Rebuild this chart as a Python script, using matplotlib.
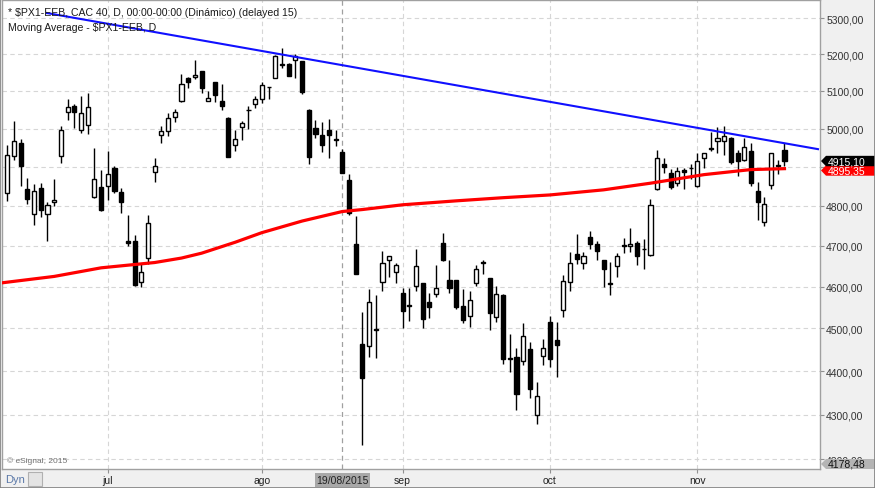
import matplotlib.pyplot as plt
import matplotlib.patches as mpatches
from matplotlib.ticker import FuncFormatter, NullLocator, NullFormatter
from matplotlib.transforms import blended_transform_factory
import numpy as np
import pandas as pd

plt.rcParams['font.family'] = ['Liberation Sans', 'DejaVu Sans']

# CAC 40 daily candles, 10 Jun 2015 .. 19 Nov 2015
dates = pd.bdate_range("2015-06-10", periods=117)

opens = [4832, 4927, 4961, 4843, 4779, 4846, 4779, 4809, 4927, 5045,
         5059, 4997, 5010, 4822, 4848, 4851, 4897, 4836, 4712, 4712,
         4612, 4669, 4888, 4984, 4994, 5030, 5072, 5136, 5137, 5153,
         5072, 5123, 5072, 5029, 4958, 5005, 5050, 5064, 5078, 5112,
         5136, 5172, 5172, 5183, 5180, 5049, 5002, 4984, 4995, 4972,
         4938, 4867, 4705, 4464, 4459, 4498, 4612, 4664, 4637, 4585,
         4556, 4602, 4608, 4562, 4583, 4707, 4617, 4617, 4554, 4530,
         4610, 4660, 4621, 4528, 4581, 4431, 4433, 4423, 4452, 4299,
         4435, 4516, 4472, 4543, 4611, 4679, 4659, 4722, 4704, 4666,
         4608, 4651, 4702, 4700, 4707, 4693, 4677, 4843, 4907, 4884,
         4858, 4892, 4897, 4851, 4922, 4948, 4968, 4966, 4976, 4935,
         4919, 4941, 4838, 4759, 4853, 4905, 4943]
highs = [4956, 5019, 4972, 4872, 4856, 4859, 4809, 4869, 5008, 5078,
         5066, 5086, 5095, 4949, 4892, 4941, 4902, 4846, 4776, 4726,
         4655, 4778, 4923, 5008, 5041, 5053, 5146, 5137, 5183, 5153,
         5100, 5123, 5118, 5031, 4996, 5020, 5060, 5087, 5124, 5112,
         5198, 5216, 5176, 5200, 5180, 5051, 5022, 5016, 5024, 4997,
         4947, 4882, 4775, 4540, 4595, 4581, 4688, 4674, 4658, 4598,
         4596, 4692, 4609, 4585, 4654, 4732, 4665, 4617, 4595, 4590,
         4652, 4665, 4622, 4601, 4582, 4487, 4454, 4514, 4469, 4374,
         4474, 4529, 4516, 4629, 4684, 4729, 4686, 4737, 4712, 4666,
         4660, 4682, 4719, 4744, 4712, 4717, 4817, 4945, 4922, 4894,
         4899, 4897, 4907, 4937, 4935, 4991, 5005, 5007, 4979, 4943,
         4974, 4961, 4861, 4822, 4937, 4917, 4961]
lows = [4813, 4919, 4852, 4806, 4751, 4773, 4713, 4801, 4911, 5022,
        5001, 4987, 4986, 4820, 4788, 4815, 4834, 4781, 4701, 4601,
        4600, 4655, 4862, 4961, 4980, 5018, 5070, 5109, 5132, 5094,
        5072, 5070, 5050, 4925, 4940, 4970, 4999, 5055, 5067, 5078,
        5134, 5161, 5140, 5135, 5093, 4908, 4974, 4939, 4924, 4954,
        4884, 4776, 4630, 4232, 4432, 4430, 4589, 4624, 4608, 4501,
        4518, 4589, 4501, 4525, 4576, 4663, 4585, 4547, 4513, 4504,
        4602, 4630, 4497, 4516, 4416, 4398, 4311, 4413, 4338, 4279,
        4413, 4409, 4386, 4527, 4589, 4655, 4643, 4693, 4664, 4599,
        4581, 4624, 4682, 4686, 4652, 4643, 4674, 4840, 4884, 4843,
        4851, 4843, 4869, 4848, 4897, 4940, 4935, 4932, 4907, 4876,
        4914, 4851, 4764, 4749, 4843, 4882, 4901]
closes = [4932, 4968, 4901, 4817, 4838, 4791, 4802, 4815, 4997, 5056,
          5045, 5040, 5056, 4869, 4791, 4881, 4837, 4809, 4708, 4603,
          4637, 4757, 4902, 4994, 5028, 5045, 5118, 5125, 5142, 5108,
          5080, 5089, 5059, 4926, 4973, 5014, 5048, 5079, 5117, 5110,
          5194, 5170, 5140, 5196, 5098, 4926, 4986, 4957, 4983, 4970,
          4885, 4783, 4631, 4383, 4564, 4496, 4657, 4674, 4652, 4542,
          4554, 4651, 4523, 4550, 4597, 4666, 4597, 4550, 4519, 4569,
          4644, 4659, 4537, 4583, 4428, 4429, 4347, 4481, 4359, 4342,
          4454, 4428, 4460, 4614, 4659, 4668, 4674, 4704, 4688, 4643,
          4606, 4674, 4700, 4705, 4674, 4692, 4802, 4922, 4899, 4848,
          4889, 4886, 4896, 4914, 4935, 4947, 4976, 4981, 4912, 4914,
          4951, 4858, 4809, 4804, 4935, 4903, 4915.10]

# moving average read at sample bars (bar -1 is just left of the view)
ma_bar = [-1, 7, 14, 22, 26, 29, 34, 38, 44, 50, 53, 59, 67, 74, 81,
          89, 96, 104, 111, 116]
ma_vals = [4609, 4625, 4646, 4659, 4670, 4682, 4709, 4733, 4762, 4786,
           4791, 4803, 4813, 4821, 4828, 4841, 4858, 4880, 4893, 4895.35]

# hand-drawn resistance trendline
trend_bar = [5.9, 121.0]
trend_vals = [5314, 4946]

y_ticks = [4200, 4300, 4400, 4500, 4600, 4700, 4800, 4900, 5000, 5100, 5200, 5300]
month_names = {7: 'jul', 8: 'ago', 9: 'sep', 10: 'oct', 11: 'nov'}
cursor_date = pd.Timestamp("2015-08-19")
y_bottom = 4178.48

W, H = 875, 489
fig = plt.figure(figsize=(W / 100, H / 100), dpi=100, facecolor='#f0f0f0')
ax = fig.add_axes([2 / W, 19 / H, 818 / W, 469 / H])
ax.set_facecolor('white')

o = np.array(opens, float)
hi = np.array(highs, float)
lo = np.array(lows, float)
c = np.array(closes, float)
x = np.arange(len(o))
up = c >= o

ax.vlines(x, lo, hi, color='black', lw=1.0, zorder=2)
bb = np.minimum(o, c)
bh = np.abs(c - o)
ax.bar(x[up], bh[up], bottom=bb[up], width=0.62, color='white',
       edgecolor='black', lw=1.0, zorder=3)
ax.bar(x[~up], bh[~up], bottom=bb[~up], width=0.62, color='black',
       edgecolor='black', lw=1.0, zorder=3)

ax.plot(ma_bar, ma_vals, color='#ff0000', lw=2.3, zorder=4,
        solid_joinstyle='round')
ax.plot(trend_bar, trend_vals, color='#1010ff', lw=1.5, zorder=4)

ax.set_yscale('log')
ax.set_ylim(y_bottom, 5350.6)
ax.set_xlim(-0.79, 121.3)


def fmt_price(v, pos=None):
    # 4900 sits under the last-price tag on the original
    if round(v) == 4900:
        return ''
    return f"{v:.2f}".replace('.', ',')


ax.yaxis.set_major_locator(plt.FixedLocator(y_ticks))
ax.yaxis.set_minor_locator(NullLocator())
ax.yaxis.set_minor_formatter(NullFormatter())
ax.yaxis.set_major_formatter(FuncFormatter(fmt_price))
ax.yaxis.tick_right()
ax.tick_params(axis='y', length=3, color='#909090', labelsize=7.5,
               labelcolor='#333333', pad=1.5)

month_starts = [i for i in range(1, len(dates)) if dates[i].month != dates[i - 1].month]
ax.set_xticks(month_starts)
ax.set_xticklabels([month_names[dates[i].month] for i in month_starts])
ax.tick_params(axis='x', length=3, color='#909090', labelsize=7.5,
               labelcolor='#222222', pad=1.5)

ax.grid(True, color='#d6d6d6', linestyle=(0, (4, 3)), lw=0.8, zorder=0)
ax.set_axisbelow(True)

cur = int(np.where(dates == cursor_date)[0][0])
ax.axvline(cur, color='#a0a0a0', linestyle=(0, (4, 3)), lw=0.9, zorder=1)
tr = blended_transform_factory(ax.transData, ax.transAxes)
ax.text(cur, -11 / 469, cursor_date.strftime('%d/%m/%Y'), transform=tr,
        ha='center', va='center', fontsize=7.5, color='#222222',
        bbox=dict(boxstyle='square,pad=0.15', fc='#a8a8a8', ec='none'))

for s in ax.spines.values():
    s.set_color('#a0a0a0')
    s.set_linewidth(1.0)

fig.text(8 / W, 1 - 13 / H, "* $PX1-EEB, CAC 40, D, 00:00-00:00 (Dinámico) (delayed 15)",
         fontsize=7.6, color='#1a1a1a', va='center')
fig.text(8 / W, 1 - 28 / H, "Moving Average - $PX1-EEB, D",
         fontsize=7.6, color='#1a1a1a', va='center')
fig.text(7 / W, 1 - 461 / H, "© eSignal, 2015", fontsize=6, color='#707070', va='center')


def price_tag(value, fc, tc, yc=None, h=5.2):
    if yc is None:
        yc = H - ax.transData.transform((0, value))[1]
    pts = [(821, yc), (826, yc - h), (875, yc - h), (875, yc + h), (826, yc + h)]
    pts = [(px / W, 1 - py / H) for px, py in pts]
    fig.patches.append(mpatches.Polygon(pts, closed=True, transform=fig.transFigure,
                                        fc=fc, ec='none', zorder=5))
    fig.text(828 / W, 1 - yc / H, f"{value:.2f}".replace('.', ','), color=tc,
             fontsize=7.5, va='center', ha='left', zorder=6)


price_tag(ma_vals[-1], '#ff0000', 'white', yc=171.5)
price_tag(closes[-1], 'black', 'white')
price_tag(y_bottom, '#b4b4b4', '#111111', yc=465, h=5.0)

fig.text(5 / W, 1 - 480 / H, "Dyn", fontsize=8, color='#5a78a8', va='center')
fig.patches.append(mpatches.Rectangle((28 / W, 1 - 487 / H), 14 / W, 14 / H,
                                      transform=fig.transFigure, fc='#e4e4e4',
                                      ec='#b0b0b0', lw=0.8, zorder=5))
fig.patches.append(mpatches.Rectangle((0, 0), 1, 1, transform=fig.transFigure,
                                      fill=False, ec='#808080', lw=1.2, zorder=6))

fig.savefig('out.png', dpi=100, facecolor=fig.get_facecolor())
